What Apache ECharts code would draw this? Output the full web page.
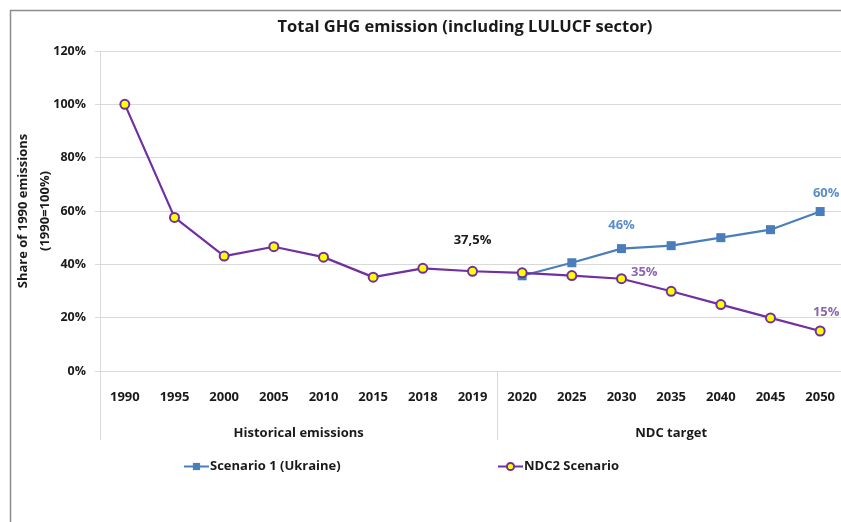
<!DOCTYPE html>
<html>
<head>
<meta charset="utf-8">
<script src="https://cdn.jsdelivr.net/npm/echarts@6/dist/echarts.min.js"></script>
<style>
  html, body { margin: 0; padding: 0; background: #fff; }
  #chart { width: 841px; height: 522px; }
</style>
</head>
<body>
<div id="chart"></div>
<script>
// data
const years = ["1990", "1995", "2000", "2005", "2010", "2015", "2018", "2019",
  "2020", "2025", "2030", "2035", "2040", "2045", "2050"];
const groups = ["Historical emissions", "NDC target"];
const scenario1 = [null, null, null, null, null, null, null, null,
  35.7, 40.6, 45.9, 47.0, 50.0, 53.0, 59.8];
const ndc2 = [100, 57.6, 43.1, 46.6, 42.7, 35.2, 38.5, 37.4,
  36.8, 35.8, 34.6, 29.9, 24.9, 19.9, 15.0];
const scenario1Labels = { 10: "46%", 14: "60%" };
const ndc2Labels = { 7: "37,5%", 10: "35%", 14: "15%" };

const FONT = "Open Sans";
const BLUE = "#4a7ebb";
const PURPLE = "#7030a0";
const TXT = "#1a1a1a";

const chart = echarts.init(document.getElementById("chart"));

function withLabels(values, labels, labelStyle) {
  return values.map((v, i) => {
    if (labels[i] === undefined) return v;
    return { value: v, label: Object.assign({ show: true, formatter: labels[i] }, labelStyle[i]) };
  });
}

const s1Style = {
  10: { position: "top", distance: 12, color: "#5b8ccc" },
  14: { position: "top", distance: 7, offset: [6, 0], color: "#5b8ccc" }
};
const ndcStyle = {
  7: { position: "top", distance: 19, color: TXT },
  10: { position: "right", distance: 4, offset: [0, -6], color: "#8a67b5" },
  14: { position: "top", distance: 7, offset: [6, 0], color: "#8a67b5" }
};

const legendText = { fontFamily: FONT, fontSize: 13, fontWeight: "bold", color: TXT, padding: [0, 0, 0, -4] };

const option = {
  animation: false,
  textStyle: { fontFamily: FONT },
  title: {
    text: "Total GHG emission (including LULUCF sector)",
    left: 460, top: 14, textAlign: "center",
    textStyle: { fontFamily: FONT, fontSize: 16.5, fontWeight: "bold", color: TXT }
  },
  legend: [
    { data: ["Scenario 1 (Ukraine)"], left: 178, top: 455, itemWidth: 25, itemHeight: 9, textStyle: legendText },
    { data: ["NDC2 Scenario"], left: 492, top: 455, itemWidth: 25, itemHeight: 9, textStyle: legendText }
  ],
  grid: { left: 100, top: 51, width: 745, height: 320, outerBoundsMode: "none", containLabel: false },
  xAxis: [
    {
      type: "category", data: years, boundaryGap: true,
      axisLine: { lineStyle: { color: "#d9d9d9" } },
      axisTick: { interval: 0, length: 36, lineStyle: { color: "#d9d9d9" } },
      axisLabel: { interval: 0, margin: 20, fontFamily: FONT, fontSize: 13, fontWeight: "bold", color: TXT }
    },
    {
      type: "value", min: 0, max: 15, position: "bottom",
      axisLine: { show: false },
      splitLine: { show: false },
      axisTick: { show: true, customValues: [0, 8, 15], length: 69, lineStyle: { color: "#d9d9d9" } },
      axisLabel: {
        customValues: [4, 11.5], margin: 56,
        formatter: (v) => (v < 8 ? groups[0] : groups[1]),
        fontFamily: FONT, fontSize: 13, fontWeight: "bold", color: TXT
      }
    }
  ],
  yAxis: {
    type: "value", min: 0, max: 120, interval: 20,
    name: "Share of 1990 emissions\n(1990=100%)",
    nameLocation: "middle", nameGap: 44, nameRotate: 90, nameMoveOverlap: false,
    nameTextStyle: { fontFamily: FONT, fontSize: 13, fontWeight: "bold", color: TXT, lineHeight: 22 },
    axisLine: { show: true, lineStyle: { color: "#d9d9d9" } },
    axisTick: { show: true, length: 5, lineStyle: { color: "#d9d9d9" } },
    splitLine: { lineStyle: { color: "#d9d9d9" } },
    axisLabel: { formatter: "{value}%", margin: 14, fontFamily: FONT, fontSize: 12.5, fontWeight: "bold", color: TXT }
  },
  series: [
    {
      name: "Scenario 1 (Ukraine)", type: "line",
      data: withLabels(scenario1, scenario1Labels, s1Style),
      symbol: "rect", symbolSize: 9, showAllSymbol: true,
      lineStyle: { color: BLUE, width: 2.2 },
      itemStyle: { color: BLUE },
      label: { fontFamily: FONT, fontSize: 13, fontWeight: "bold" }
    },
    {
      name: "NDC2 Scenario", type: "line",
      data: withLabels(ndc2, ndc2Labels, ndcStyle),
      symbol: "circle", symbolSize: 9, showAllSymbol: true,
      lineStyle: { color: PURPLE, width: 2.2 },
      itemStyle: { color: "#ffff00", borderColor: PURPLE, borderWidth: 2 },
      label: { fontFamily: FONT, fontSize: 13, fontWeight: "bold" }
    }
  ],
  graphic: [
    {
      type: "polyline", silent: true,
      shape: { points: [[10.5, 522], [10.5, 10.5], [841, 10.5]] },
      style: { stroke: "#8c8c8c", lineWidth: 1.5, fill: null }
    }
  ]
};

chart.setOption(option);
window.addEventListener("resize", () => chart.resize());
</script>
</body>
</html>
